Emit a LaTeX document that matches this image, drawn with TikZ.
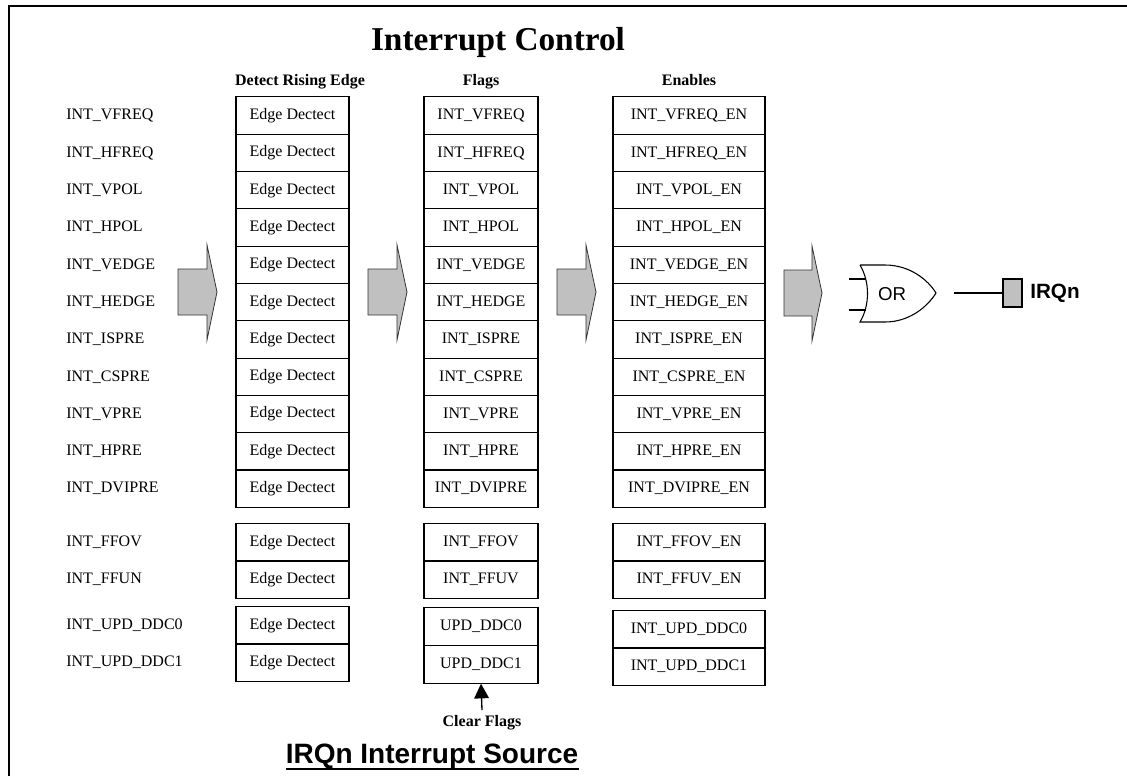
\documentclass[tikz,border=0pt]{standalone}
\usepackage{fontspec}
\setmainfont{Liberation Serif}
\setsansfont{Liberation Sans}
\usetikzlibrary{positioning,arrows.meta}
\definecolor{blockgray}{RGB}{192,192,192}

\begin{document}
\begin{tikzpicture}[
    x=0.75pt, y=-0.75pt,
    cell/.style={
        draw,
        line width=0.8pt,
        minimum height=28pt,
        inner sep=0pt,
        font=\fontsize{12}{14}\selectfont
    },
    edgecell/.style={cell, minimum width=84.75pt},
    flagcell/.style={cell, minimum width=85.5pt},
    encell/.style={cell, minimum width=114pt},
    sig/.style={
        anchor=west,
        inner sep=0pt,
        font=\fontsize{12}{14}\selectfont
    },
    colhead/.style={
        inner sep=0pt,
        font=\bfseries\fontsize{12}{14}\selectfont
    },
    bigarr/.style={
        draw=black!80,
        line width=0.6pt,
        fill=blockgray,
        line join=miter
    },
    wire/.style={line width=0.8pt}
]

% ============================================================
% FRAME AND TITLES
% ============================================================

\useasboundingbox (0,0) rectangle (1127,776);
\draw[line width=1.4pt] (9,776) -- (9,6) -- (1127,6);

\node[inner sep=0pt, anchor=base, font=\bfseries\fontsize{25}{28}\selectfont]
    (title) at (498,50) {Interrupt Control};

\node[colhead, anchor=base] (hedge) at (300,85) {Detect Rising Edge};
\node[colhead, anchor=base] (hflag) at (481,85) {Flags};
\node[colhead, anchor=base] (hen) at (689,85) {Enables};

% ============================================================
% SOURCES — LEFT COLUMN
% ============================================================

\node[sig] (sig1) at (66,115.6) {INT\_VFREQ};
\node[sig] (sig2) at (66,153.0) {INT\_HFREQ};
\node[sig] (sig3) at (66,190.2) {INT\_VPOL};
\node[sig] (sig4) at (66,227.6) {INT\_HPOL};
\node[sig] (sig5) at (66,264.8) {INT\_VEDGE};
\node[sig] (sig6) at (66,302.2) {INT\_HEDGE};
\node[sig] (sig7) at (66,339.4) {INT\_ISPRE};
\node[sig] (sig8) at (66,376.8) {INT\_CSPRE};
\node[sig] (sig9) at (66,414.0) {INT\_VPRE};
\node[sig] (sig10) at (66,451.4) {INT\_HPRE};
\node[sig] (sig11) at (66,488.6) {INT\_DVIPRE};
\node[sig] (sig12) at (66,542.5) {INT\_FFOV};
\node[sig] (sig13) at (66,579.5) {INT\_FFUN};
\node[sig] (sig14) at (66,625.5) {INT\_UPD\_DDC0};
\node[sig] (sig15) at (66,662.5) {INT\_UPD\_DDC1};

% ============================================================
% EDGE DETECT COLUMN
% ============================================================

\node[edgecell] (edge1) at (292.5,115.6) {Edge Dectect};
\node[edgecell] (edge2) at (292.5,153.0) {Edge Dectect};
\node[edgecell] (edge3) at (292.5,190.2) {Edge Dectect};
\node[edgecell] (edge4) at (292.5,227.6) {Edge Dectect};
\node[edgecell] (edge5) at (292.5,264.8) {Edge Dectect};
\node[edgecell] (edge6) at (292.5,302.2) {Edge Dectect};
\node[edgecell] (edge7) at (292.5,339.4) {Edge Dectect};
\node[edgecell] (edge8) at (292.5,376.8) {Edge Dectect};
\node[edgecell] (edge9) at (292.5,414.0) {Edge Dectect};
\node[edgecell] (edge10) at (292.5,451.4) {Edge Dectect};
\node[edgecell] (edge11) at (292.5,488.6) {Edge Dectect};
\node[edgecell] (edge12) at (292.5,542.5) {Edge Dectect};
\node[edgecell] (edge13) at (292.5,579.5) {Edge Dectect};
\node[edgecell] (edge14) at (292.5,625.5) {Edge Dectect};
\node[edgecell] (edge15) at (292.5,662.5) {Edge Dectect};

% ============================================================
% FLAGS COLUMN
% ============================================================

\node[flagcell] (flag1) at (481,115.6) {INT\_VFREQ};
\node[flagcell] (flag2) at (481,153.0) {INT\_HFREQ};
\node[flagcell] (flag3) at (481,190.2) {INT\_VPOL};
\node[flagcell] (flag4) at (481,227.6) {INT\_HPOL};
\node[flagcell] (flag5) at (481,264.8) {INT\_VEDGE};
\node[flagcell] (flag6) at (481,302.2) {INT\_HEDGE};
\node[flagcell] (flag7) at (481,339.4) {INT\_ISPRE};
\node[flagcell] (flag8) at (481,376.8) {INT\_CSPRE};
\node[flagcell] (flag9) at (481,414.0) {INT\_VPRE};
\node[flagcell] (flag10) at (481,451.4) {INT\_HPRE};
\node[flagcell] (flag11) at (481,488.6) {INT\_DVIPRE};
\node[flagcell] (flag12) at (481,542.5) {INT\_FFOV};
\node[flagcell] (flag13) at (481,579.5) {INT\_FFUV};
\node[flagcell] (flag14) at (481,626.5) {UPD\_DDC0};
\node[flagcell] (flag15) at (481,664.5) {UPD\_DDC1};

% ============================================================
% ENABLES COLUMN
% ============================================================

\node[encell] (en1) at (689,115.6) {INT\_VFREQ\_EN};
\node[encell] (en2) at (689,153.0) {INT\_HFREQ\_EN};
\node[encell] (en3) at (689,190.2) {INT\_VPOL\_EN};
\node[encell] (en4) at (689,227.6) {INT\_HPOL\_EN};
\node[encell] (en5) at (689,264.8) {INT\_VEDGE\_EN};
\node[encell] (en6) at (689,302.2) {INT\_HEDGE\_EN};
\node[encell] (en7) at (689,339.4) {INT\_ISPRE\_EN};
\node[encell] (en8) at (689,376.8) {INT\_CSPRE\_EN};
\node[encell] (en9) at (689,414.0) {INT\_VPRE\_EN};
\node[encell] (en10) at (689,451.4) {INT\_HPRE\_EN};
\node[encell] (en11) at (689,488.6) {INT\_DVIPRE\_EN};
\node[encell] (en12) at (689,542.5) {INT\_FFOV\_EN};
\node[encell] (en13) at (689,579.5) {INT\_FFUV\_EN};
\node[encell] (en14) at (689,629.5) {INT\_UPD\_DDC0};
\node[encell] (en15) at (689,666.5) {INT\_UPD\_DDC1};

% ============================================================
% BLOCK ARROWS BETWEEN STAGES
% ============================================================

\draw[bigarr] (178,269) -- ++(29,0) -- ++(0,-24) -- ++(10,47) -- ++(-10,48) -- ++(0,-25) -- ++(-29,0) -- cycle;
\draw[bigarr] (368,269) -- ++(29,0) -- ++(0,-24) -- ++(10,47) -- ++(-10,48) -- ++(0,-25) -- ++(-29,0) -- cycle;
\draw[bigarr] (557,269) -- ++(29,0) -- ++(0,-24) -- ++(10,47) -- ++(-10,48) -- ++(0,-25) -- ++(-29,0) -- cycle;
\draw[bigarr] (784,270) -- ++(28,0) -- ++(0,-24) -- ++(10,47) -- ++(-10,48) -- ++(0,-25) -- ++(-28,0) -- cycle;

% ============================================================
% OR GATE AND OUTPUT
% ============================================================

\draw[wire] (860,265) -- (885,265)
    .. controls (910,265) and (928,280) .. (936,293)
    .. controls (928,306) and (910,322) .. (885,322)
    -- (860,322) .. controls (870,305) and (870,282) .. (860,265);
\draw[wire] (849,279) -- (866,279);
\draw[wire] (849,310) -- (866,310);
\node[inner sep=0pt, font=\sffamily\fontsize{14}{16}\selectfont] (orgate) at (892,294) {OR};

\coordinate (orout) at (954,293);
\node[draw, line width=0.8pt, fill=blockgray, minimum width=14.25pt, minimum height=21pt, inner sep=0pt]
    (irqpin) at (1012.5,293) {};
\node[anchor=west, inner sep=0pt, font=\sffamily\bfseries\fontsize{15.5}{18}\selectfont]
    (irq) at (1030,293) {IRQn};
\draw[wire] (orout) -- (irqpin.west);

% ============================================================
% CLEAR FLAGS AND FOOTER
% ============================================================

\node[colhead] (clr) at (482,723) {Clear Flags};
\draw[line width=1pt, -{Triangle[length=11pt, width=11pt]}] ([yshift=4pt]clr.north) -- (flag15.south);

\node[inner sep=0pt, anchor=base, font=\sffamily\bfseries\fontsize{21}{24}\selectfont]
    (footer) at (432,763) {IRQn Interrupt Source};
\draw[line width=1.5pt] ([yshift=-4.5pt]footer.base west) -- ([yshift=-4.5pt]footer.base east);

\end{tikzpicture}
\end{document}
